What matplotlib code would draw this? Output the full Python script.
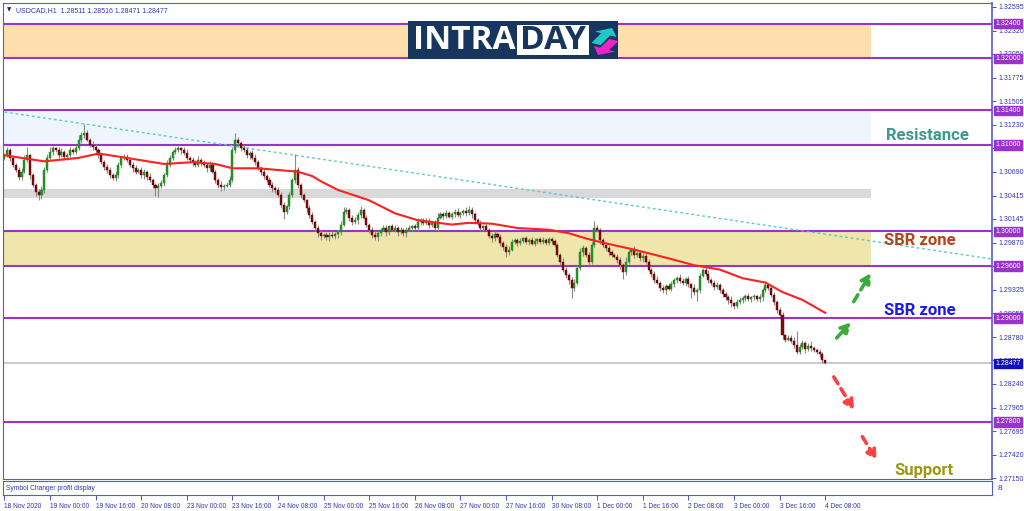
import matplotlib

matplotlib.use("Agg")

import matplotlib.pyplot as plt
import numpy as np
from matplotlib.patches import Rectangle, FancyArrow
from matplotlib.transforms import blended_transform_factory

# ---- data (USDCAD H1) ----
first_open = 1.3085
closes = [
	1.3088, 1.3094, 1.3085, 1.3077, 1.3071, 1.3063, 1.3069, 1.3083, 1.3088, 1.3065,
	1.3054, 1.3046, 1.3042, 1.3048, 1.3071, 1.3085, 1.3092, 1.3096, 1.3094, 1.3088,
	1.3092, 1.3086, 1.3088, 1.3094, 1.3092, 1.3096, 1.3106, 1.3111, 1.3114, 1.3106,
	1.3100, 1.3098, 1.3094, 1.3088, 1.3080, 1.3074, 1.3071, 1.3065, 1.3062, 1.3065,
	1.3077, 1.3085, 1.3086, 1.3083, 1.3077, 1.3073, 1.3069, 1.3071, 1.3065, 1.3069,
	1.3063, 1.3059, 1.3054, 1.3050, 1.3053, 1.3056, 1.3065, 1.3077, 1.3085, 1.3092,
	1.3094, 1.3096, 1.3094, 1.3091, 1.3085, 1.3083, 1.3080, 1.3077, 1.3083, 1.3079,
	1.3077, 1.3073, 1.3077, 1.3069, 1.3059, 1.3054, 1.3051, 1.3053, 1.3054, 1.3059,
	1.3094, 1.3106, 1.3102, 1.3096, 1.3094, 1.3088, 1.3091, 1.3085, 1.3080, 1.3073,
	1.3069, 1.3064, 1.3059, 1.3054, 1.3050, 1.3048, 1.3042, 1.3031, 1.3023, 1.3029,
	1.3042, 1.3059, 1.3071, 1.3054, 1.3042, 1.3036, 1.3027, 1.3019, 1.3011, 1.3004,
	1.2998, 1.2995, 1.2996, 1.2994, 1.2996, 1.2995, 1.2997, 1.2999, 1.3008, 1.3023,
	1.3025, 1.3016, 1.3011, 1.3013, 1.3019, 1.3025, 1.3016, 1.3008, 1.3002, 1.2996,
	1.2994, 1.2998, 1.3002, 1.3004, 1.2999, 1.3006, 1.3002, 1.3004, 1.2999, 1.3002,
	1.2998, 1.3002, 1.3004, 1.3006, 1.3004, 1.3011, 1.3013, 1.3010, 1.3012, 1.3008,
	1.3010, 1.3004, 1.3016, 1.3020, 1.3018, 1.3021, 1.3017, 1.3020, 1.3023, 1.3019,
	1.3021, 1.3024, 1.3021, 1.3025, 1.3020, 1.3013, 1.3009, 1.3004, 1.3006, 1.3002,
	1.2995, 1.2992, 1.2997, 1.2994, 1.2987, 1.2982, 1.2976, 1.2979, 1.2988, 1.2990,
	1.2987, 1.2989, 1.2992, 1.2988, 1.2990, 1.2986, 1.2989, 1.2991, 1.2988, 1.2990,
	1.2987, 1.2991, 1.2989, 1.2984, 1.2973, 1.2965, 1.2956, 1.2950, 1.2944, 1.2935,
	1.2941, 1.2958, 1.2976, 1.2981, 1.2973, 1.2965, 1.2984, 1.3004, 1.3002, 1.2990,
	1.2984, 1.2981, 1.2976, 1.2973, 1.2971, 1.2967, 1.2961, 1.2953, 1.2965, 1.2976,
	1.2979, 1.2973, 1.2975, 1.2969, 1.2972, 1.2965, 1.2956, 1.2951, 1.2944, 1.2941,
	1.2935, 1.2932, 1.2937, 1.2934, 1.2939, 1.2944, 1.2946, 1.2943, 1.2941, 1.2945,
	1.2939, 1.2935, 1.2930, 1.2932, 1.2949, 1.2956, 1.2951, 1.2944, 1.2941, 1.2936,
	1.2938, 1.2932, 1.2928, 1.2924, 1.2921, 1.2917, 1.2914, 1.2919, 1.2921, 1.2923,
	1.2925, 1.2922, 1.2924, 1.2925, 1.2922, 1.2924, 1.2932, 1.2938, 1.2935, 1.2927,
	1.2919, 1.2909, 1.2904, 1.2880, 1.2875, 1.2877, 1.2874, 1.2869, 1.2861, 1.2867,
	1.2871, 1.2864, 1.2868, 1.2865, 1.2863, 1.2861, 1.2859, 1.2851, 1.28477,
]
# wick length beyond the body, in pips
wick_up_pips = [
	3, 4, 2, 3, 2, 3, 4, 5, 10, 2, 3, 2, 3, 4, 3, 4, 5, 3, 2, 3,
	4, 2, 3, 3, 2, 4, 5, 4, 10, 3, 2, 4, 3, 2, 3, 2, 4, 3, 2, 5,
	3, 2, 4, 3, 2, 3, 4, 2, 3, 3, 2, 4, 3, 2, 3, 4, 3, 5, 3, 2,
	4, 3, 2, 3, 4, 2, 3, 3, 4, 2, 3, 2, 4, 3, 2, 3, 4, 2, 3, 5,
	4, 8, 3, 2, 4, 3, 2, 3, 4, 2, 3, 3, 2, 4, 3, 2, 3, 4, 3, 2,
	4, 3, 18, 3, 2, 3, 2, 4, 3, 2, 3, 4, 2, 3, 3, 4, 2, 3, 4, 5,
	3, 2, 3, 4, 3, 4, 2, 3, 2, 3, 4, 3, 2, 4, 3, 2, 3, 4, 2, 3,
	2, 3, 4, 2, 3, 4, 3, 2, 3, 4, 2, 3, 5, 3, 2, 4, 3, 2, 3, 4,
	3, 2, 4, 4, 3, 2, 3, 4, 2, 3, 2, 3, 4, 2, 3, 2, 3, 4, 3, 2,
	3, 4, 2, 3, 2, 4, 3, 2, 3, 4, 2, 3, 3, 2, 3, 2, 4, 3, 2, 3,
	4, 3, 5, 3, 2, 3, 4, 8, 3, 2, 3, 4, 2, 3, 2, 3, 4, 3, 5, 3,
	2, 4, 3, 2, 3, 4, 3, 2, 3, 4, 2, 3, 2, 3, 4, 2, 3, 5, 3, 2,
	3, 2, 4, 3, 3, 2, 3, 4, 2, 3, 4, 2, 3, 2, 3, 4, 2, 3, 3, 2,
	3, 4, 2, 3, 2, 4, 3, 5, 3, 2, 3, 2, 4, 3, 2, 3, 4, 4, 16, 3,
	4, 2, 3, 5, 3, 2, 3, 2, 0.5,
]
wick_dn_pips = [
	3, 2, 4, 3, 2, 4, 3, 2, 3, 4, 3, 5, 6, 4, 3, 2, 3, 4, 2, 3,
	2, 3, 4, 2, 3, 3, 2, 4, 3, 2, 3, 4, 2, 3, 2, 3, 4, 3, 2, 4,
	3, 4, 2, 3, 2, 4, 3, 2, 3, 4, 3, 2, 4, 9, 10, 3, 4, 2, 3, 2,
	3, 2, 4, 3, 2, 3, 4, 2, 3, 3, 2, 4, 3, 2, 3, 4, 4, 3, 2, 3,
	2, 3, 4, 3, 2, 3, 4, 2, 3, 2, 4, 3, 2, 3, 4, 3, 2, 4, 9, 3,
	3, 2, 3, 4, 3, 2, 4, 3, 2, 3, 4, 5, 3, 4, 5, 3, 4, 4, 3, 2,
	3, 4, 3, 2, 4, 3, 2, 3, 4, 3, 4, 5, 3, 2, 4, 3, 2, 3, 4, 2,
	3, 4, 2, 3, 2, 3, 4, 2, 3, 4, 3, 2, 3, 2, 4, 3, 2, 3, 3, 2,
	3, 2, 3, 2, 4, 3, 2, 3, 4, 2, 3, 4, 3, 2, 4, 3, 5, 3, 2, 3,
	4, 3, 2, 3, 4, 2, 3, 4, 3, 2, 3, 3, 4, 2, 3, 4, 3, 4, 5, 12,
	4, 3, 2, 4, 3, 4, 3, 2, 3, 4, 2, 3, 4, 3, 2, 3, 4, 8, 3, 2,
	3, 4, 2, 3, 4, 3, 2, 4, 3, 2, 4, 3, 4, 2, 3, 3, 4, 2, 3, 4,
	3, 12, 3, 10, 3, 2, 3, 4, 3, 4, 2, 3, 4, 3, 5, 4, 3, 2, 3, 4,
	3, 2, 4, 3, 2, 3, 4, 2, 3, 3, 4, 3, 2, 4, 3, 2, 3, 4, 3, 2,
	3, 4, 2, 3, 2, 3, 4, 3, 0.6,
]

# moving average (red line), sampled along the chart
ma_bars = [0, 6, 14, 26, 33, 41, 56, 66, 74, 80, 89, 103, 108, 111, 117, 128, 137, 145,
	157, 163, 171, 180, 191, 198, 204, 210, 221, 233, 242, 251, 259, 267, 273, 280, 288]
ma_values = [1.3088, 1.3085, 1.3081, 1.3085, 1.3090, 1.3086, 1.3078, 1.3080, 1.3078, 1.3073,
	1.3073, 1.3069, 1.3064, 1.3058, 1.3048, 1.3036, 1.3021, 1.3013, 1.3008, 1.3010,
	1.3009, 1.3004, 1.3002, 1.2998, 1.2992, 1.2987, 1.2979, 1.2969, 1.2961, 1.2956,
	1.2946, 1.2941, 1.2930, 1.2921, 1.2906]

level_lines = [1.3240, 1.3200, 1.3140, 1.3100, 1.3000, 1.2960, 1.2900, 1.2780]
zone_lows = [1.3200, 1.3100, 1.3039, 1.2960]
zone_highs = [1.3240, 1.3140, 1.3049, 1.3000]
zone_end_bar = 304
current_price = 1.28477
trend_bars = [0, 347]
trend_prices = [1.3138, 1.2968]

arrow_starts = [(292, 1.2877), (298, 1.2919), (291, 1.2832), (301, 1.2763)]
arrow_ends = [(297, 1.2895), (304, 1.2952), (298, 1.2794), (306, 1.2736)]

note_texts = ["Resistance", "SBR zone", "SBR zone", "Support"]
note_bars = [324, 321, 321, 322.5]
note_prices = [1.3111, 1.2989, 1.2909, 1.2724]

price_ticks = [1.32595, 1.32320, 1.32050, 1.31775, 1.31505, 1.31230, 1.30960, 1.30690,
	1.30415, 1.30145, 1.29870, 1.29600, 1.29325, 1.29055, 1.28780, 1.28510, 1.28240,
	1.27965, 1.27695, 1.27420, 1.27150]
time_tick_bars = list(range(0, 289, 16))
time_labels = ["18 Nov 2020", "19 Nov 00:00", "19 Nov 16:00", "20 Nov 08:00", "23 Nov 00:00",
	"23 Nov 16:00", "24 Nov 08:00", "25 Nov 00:00", "25 Nov 16:00", "26 Nov 08:00",
	"27 Nov 00:00", "27 Nov 16:00", "30 Nov 08:00", "1 Dec 00:00", "1 Dec 16:00",
	"2 Dec 08:00", "3 Dec 00:00", "3 Dec 16:00", "4 Dec 08:00"]
header = "USDCAD,H1  1.28511 1.28516 1.28471 1.28477"

# ---- styles ----
AXIS_BLUE = "#3535b0"
FRAME = "#5a5ad0"
PURPLE = "#9933cc"
zone_colors = ["#fddfae", "#eef5fd", "#d9d9d9", "#eee6aa"]
arrow_colors = ["#3aaa3a", "#3aaa3a", "#ff4040", "#ff4040"]
note_colors = ["#3e9a90", "#b4441c", "#1a1aee", "#999910"]
SMALL = ["Liberation Sans", "DejaVu Sans"]
NOTE_FONT = ["Roboto", "DejaVu Sans"]

closes = np.array(closes)
opens = np.concatenate([[first_open], closes[:-1]])
body_top = np.maximum(opens, closes)
body_bot = np.minimum(opens, closes)
highs = body_top + np.array(wick_up_pips) * 1e-4
lows = body_bot - np.array(wick_dn_pips) * 1e-4
bars = np.arange(len(closes))
bull = closes >= opens

fig = plt.figure(figsize=(10.24, 5.11), dpi=100)
W, H = 1024, 511
ax = fig.add_axes([3 / W, 1 - 479 / H, 989 / W, 476 / H])
ax.set_xlim(-0.5, 346.5)
ax.set_ylim(1.27141, 1.32639)

for lo, hi, col in zip(zone_lows, zone_highs, zone_colors):
	ax.fill_between([-0.5, zone_end_bar], lo, hi, color=col, lw=0, zorder=0)
for lvl in level_lines:
	ax.axhline(lvl, color=PURPLE, lw=1.5, zorder=1)
ax.axhline(current_price, color="#c0c0c0", lw=1.2, zorder=1)
ax.plot(trend_bars, trend_prices, color="#5cc8c8", lw=1, linestyle=(0, (2, 2)), zorder=2)

# candles
ax.vlines(bars, lows, highs, color="#8a8a8a", lw=0.8, zorder=3)
heights = np.maximum(body_top - body_bot, 0.00004)
ax.bar(bars[bull], heights[bull], bottom=body_bot[bull], width=0.72, color="#1f9a1f",
	edgecolor="#1f7a1f", lw=0.3, zorder=4)
ax.bar(bars[~bull], heights[~bull], bottom=body_bot[~bull], width=0.72, color="#800a0a",
	edgecolor="#600000", lw=0.3, zorder=4)

ax.plot(ma_bars, ma_values, color="#ff2020", lw=1.5, zorder=5)

for (x0, y0), (x1, y1), col in zip(arrow_starts, arrow_ends, arrow_colors):
	ax.annotate("", xy=(x1, y1), xytext=(x0, y0),
		arrowprops=dict(arrowstyle="-|>,head_length=0.55,head_width=0.3", color=col,
			lw=2.6, linestyle=(0, (2.2, 1.6)), shrinkA=0, shrinkB=0), zorder=6)

for txt, xb, yp, col in zip(note_texts, note_bars, note_prices, note_colors):
	ax.text(xb, yp, txt, color=col, fontsize=12, fontweight="bold", family=NOTE_FONT,
		ha="center", va="center", zorder=6)

# price axis on the right, MT4 style
ax.yaxis.tick_right()
ax.set_yticks(price_ticks)
ax.set_yticklabels([f"{p:.5f}" for p in price_ticks], family=SMALL)
ax.tick_params(axis="y", length=3, width=0.6, pad=1.5, labelsize=5, colors=AXIS_BLUE)
ax.set_xticks([])
for s in ax.spines.values():
	s.set_color(FRAME)
	s.set_linewidth(0.8)
ax.spines["right"].set_linewidth(1.2)

tr = blended_transform_factory(ax.transAxes, ax.transData)
for lvl in level_lines:
	ax.text(1.0033, lvl, f"{lvl:.5f}", transform=tr, ha="left", va="center", fontsize=5,
		family=SMALL, color="white", zorder=10, clip_on=False,
		bbox=dict(boxstyle="square,pad=0.18", fc=PURPLE, ec=PURPLE))
ax.text(1.0033, current_price, f"{current_price:.5f}", transform=tr, ha="left", va="center",
	fontsize=5, family=SMALL, color="white", zorder=10, clip_on=False,
	bbox=dict(boxstyle="square,pad=0.18", fc="#1010c0", ec="#1010c0"))

ax.text(0.004, 0.985, "\u25BC", transform=ax.transAxes, fontsize=4, color="#20207a",
	va="center", ha="left", family=["DejaVu Sans"])
ax.text(0.013, 0.985, header, transform=ax.transAxes, fontsize=5, color=AXIS_BLUE,
	va="center", ha="left", family=SMALL)

# indicator sub-panel with the time axis
ax2 = fig.add_axes([3 / W, 1 - 495 / H, 989 / W, 14 / H])
ax2.set_xlim(ax.get_xlim())
ax2.set_ylim(0, 1)
ax2.set_yticks([])
ax2.set_xticks(time_tick_bars)
ax2.set_xticklabels(time_labels, family=SMALL)
ax2.tick_params(axis="x", length=3.5, width=0.6, pad=2, labelsize=4.8, colors=AXIS_BLUE)
for lab in ax2.get_xticklabels():
	lab.set_horizontalalignment("left")
for s in ax2.spines.values():
	s.set_color(FRAME)
	s.set_linewidth(0.8)
ax2.text(0.003, 0.5, "Symbol Changer profit display", transform=ax2.transAxes, fontsize=4.8,
	color=AXIS_BLUE, va="center", ha="left", family=SMALL)
ax2.text(1.006, 0.5, "8", transform=ax2.transAxes, fontsize=6, color=AXIS_BLUE,
	va="center", ha="left", family=SMALL)

# INTRADAY logo
fig.patches.append(Rectangle((408 / W, 1 - 59 / H), 210 / W, 38 / H, transform=fig.transFigure,
	fc="#17365d", ec="none", zorder=20))
fig.patches.append(Rectangle((517 / W, 1 - 55 / H), 72 / W, 30 / H, transform=fig.transFigure,
	fc="white", ec="none", zorder=21))
fig.text(413 / W, 1 - 40.5 / H, "INTRA", color="white", fontsize=24, fontweight="bold",
	family=["Open Sans", "DejaVu Sans"], va="center", ha="left", zorder=22)
fig.text(553 / W, 1 - 40.5 / H, "DAY", color="#17365d", fontsize=24, fontweight="bold",
	family=["Open Sans", "DejaVu Sans"], va="center", ha="center", zorder=22)
fig.patches.append(FancyArrow(596 / W, 1 - 44 / H, 16 / W, 16 / H,
	width=5 / H, head_width=12 / H, head_length=7 / H, length_includes_head=True,
	transform=fig.transFigure, fc="#1fc8c8", ec="none", zorder=23))
fig.patches.append(FancyArrow(614 / W, 1 - 40 / H, -16 / W, -15 / H,
	width=5 / H, head_width=12 / H, head_length=7 / H, length_includes_head=True,
	transform=fig.transFigure, fc="#e826c8", ec="none", zorder=23))

fig.savefig("out.png", dpi=100)
